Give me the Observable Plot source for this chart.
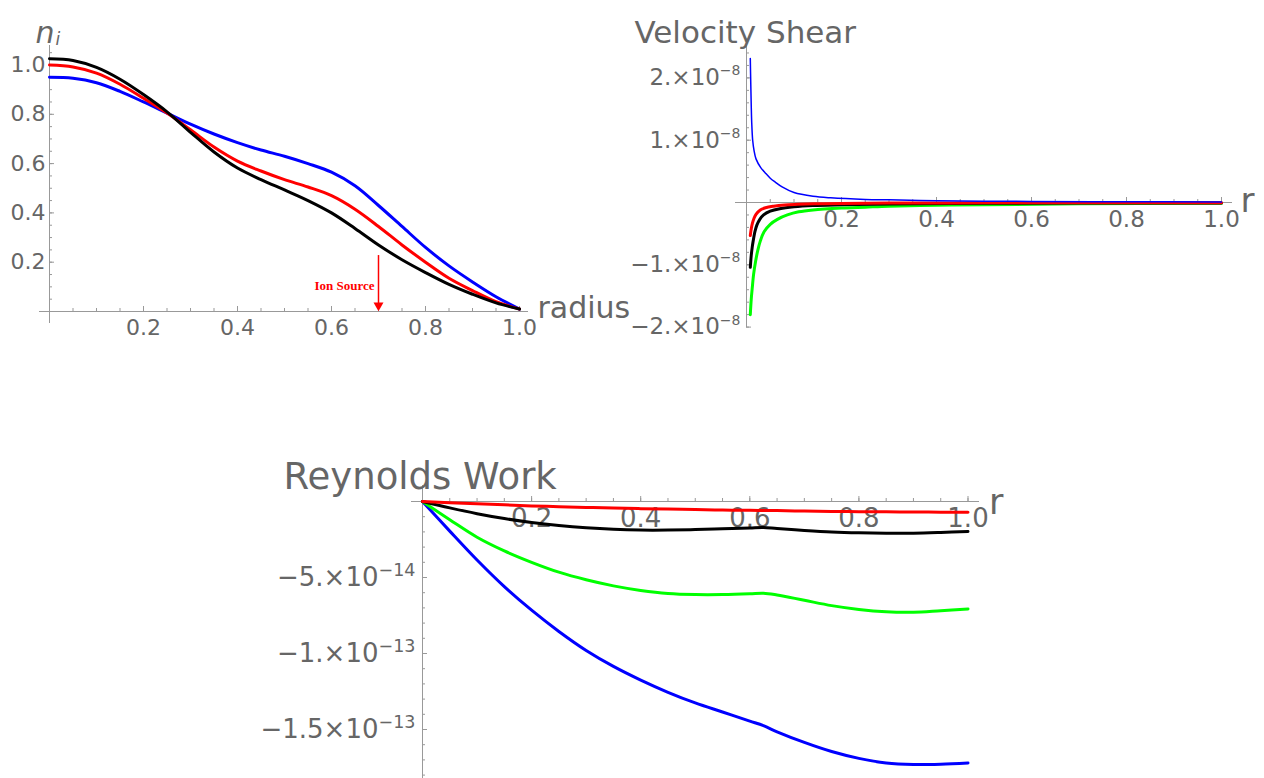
<!DOCTYPE html>
<html><head><meta charset="utf-8">
<script src="https://cdn.jsdelivr.net/npm/d3@7"></script>
<script src="https://cdn.jsdelivr.net/npm/@observablehq/plot@0.6"></script>
<style>
body{margin:0;background:#fff;}
#wrap{position:relative;width:1264px;height:778px;overflow:hidden;background:#fff;}
.panel{position:absolute;}
.panel svg{overflow:visible;background:transparent;}
</style>
</head><body><div id="wrap"></div>
<script>
// ---------- Panel A: ion density n_i vs radius ----------
const rA = [0,0.05,0.1,0.15,0.2,0.25,0.3,0.35,0.4,0.45,0.5,0.55,0.6,0.65,0.7,0.75,0.8,0.85,0.9,0.95,1.0];
const nBlack = [1.025,1.018,0.99,0.942,0.88,0.81,0.727,0.647,0.582,0.535,0.493,0.45,0.40,0.337,0.27,0.21,0.158,0.11,0.07,0.035,0.01];
const nRed   = [1.0,0.992,0.967,0.922,0.865,0.805,0.737,0.667,0.61,0.57,0.535,0.505,0.47,0.415,0.345,0.27,0.2,0.135,0.085,0.04,0.01];
const nBlue  = [0.95,0.946,0.928,0.893,0.85,0.805,0.76,0.72,0.685,0.655,0.63,0.6,0.565,0.51,0.43,0.345,0.26,0.185,0.12,0.06,0.01];
const ionSourceR = 0.7;
const ionSourceLabel = "Ion Source";
const ticksA = [0.2,0.4,0.6,0.8,1.0];
const tickLabelsA = ["0.2","0.4","0.6","0.8","1.0"];

// ---------- Panel B: velocity shear ----------
const rShearBlue = [0.008,0.009,0.010,0.011,0.013,0.016,0.02,0.03,0.04,0.05,0.06,0.075,0.1,0.14,0.177,0.25,0.3,0.4,0.5,0.6,0.8,1.0];
const shearBlue  = [2.31e-8,1.9e-8,1.55e-8,1.28e-8,1.0e-8,0.83e-8,0.7e-8,0.56e-8,0.47e-8,0.39e-8,0.33e-8,0.25e-8,0.16e-8,0.1e-8,0.075e-8,0.05e-8,0.043e-8,0.03e-8,0.022e-8,0.017e-8,0.012e-8,0.009e-8];
const rShearRed  = [0.008,0.01,0.0125,0.0155,0.02,0.029,0.04,0.057,0.08,0.107,0.15,0.2,0.3,0.5,0.7,1.0];
const shearRed   = [-0.53e-8,-0.42e-8,-0.33e-8,-0.26e-8,-0.19e-8,-0.12e-8,-0.085e-8,-0.06e-8,-0.04e-8,-0.03e-8,-0.02e-8,-0.015e-8,-0.01e-8,-0.006e-8,-0.004e-8,-0.003e-8];
const rShearBlack = [0.008,0.01,0.012,0.014,0.018,0.022,0.028,0.036,0.05,0.07,0.1,0.14,0.2,0.3,0.5,0.7,1.0];
const shearBlack  = [-1.04e-8,-0.85e-8,-0.72e-8,-0.62e-8,-0.46e-8,-0.36e-8,-0.27e-8,-0.2e-8,-0.14e-8,-0.1e-8,-0.07e-8,-0.05e-8,-0.038e-8,-0.025e-8,-0.014e-8,-0.01e-8,-0.007e-8];
const rShearGreen = [0.008,0.01,0.012,0.015,0.019,0.024,0.029,0.037,0.05,0.065,0.086,0.11,0.14,0.2,0.25,0.3,0.4,0.5,0.7,1.0];
const shearGreen  = [-1.8e-8,-1.55e-8,-1.38e-8,-1.15e-8,-0.95e-8,-0.76e-8,-0.62e-8,-0.47e-8,-0.35e-8,-0.27e-8,-0.2e-8,-0.15e-8,-0.12e-8,-0.09e-8,-0.075e-8,-0.06e-8,-0.045e-8,-0.035e-8,-0.022e-8,-0.014e-8];
const ticksBx = [0.2,0.4,0.6,0.8,1.0];
const tickLabelsBx = ["0.2","0.4","0.6","0.8","1.0"];
const ticksBy = [2e-8,1e-8,-1e-8,-2e-8];
const tickLabelsBy = ["2.×10","1.×10","−1.×10","−2.×10"];
const tickExpBy = ["−8","−8","−8","−8"];

// ---------- Panel C: Reynolds work ----------
const rC = [0,0.05,0.1,0.15,0.2,0.25,0.3,0.35,0.4,0.45,0.5,0.55,0.6,0.625,0.65,0.7,0.75,0.8,0.85,0.9,0.95,1.0];
const rwBlue  = [0,-1.95,-3.85,-5.6,-7.15,-8.55,-9.8,-10.85,-11.75,-12.55,-13.25,-13.85,-14.45,-14.75,-15.15,-15.85,-16.45,-16.9,-17.2,-17.3,-17.28,-17.2].map(v=>v*1e-14);
const rwGreen = [0,-1.2,-2.35,-3.25,-4.0,-4.65,-5.15,-5.55,-5.85,-6.05,-6.12,-6.12,-6.07,-6.03,-6.15,-6.5,-6.85,-7.1,-7.25,-7.28,-7.18,-7.07].map(v=>v*1e-14);
const rwBlack = [0,-0.42,-0.8,-1.12,-1.38,-1.58,-1.73,-1.83,-1.88,-1.88,-1.85,-1.8,-1.74,-1.71,-1.78,-1.9,-2.0,-2.06,-2.09,-2.09,-2.04,-1.97].map(v=>v*1e-14);
const rwRed   = [0,-0.08,-0.15,-0.22,-0.29,-0.34,-0.39,-0.43,-0.47,-0.5,-0.53,-0.56,-0.58,-0.59,-0.6,-0.63,-0.65,-0.67,-0.68,-0.69,-0.7,-0.7].map(v=>v*1e-14);
const ticksCx = [0.2,0.4,0.6,0.8,1.0];
const tickLabelsCx = ["0.2","0.4","0.6","0.8","1.0"];
const ticksCy = [-5e-14,-1e-13,-1.5e-13];
const tickLabelsCy = ["−5.×10","−1.×10","−1.5×10"];
const tickExpCy = ["−14","−13","−13"];

// ---------- helpers ----------
const AX = "#999", TX = "#666", FONT = "DejaVu Sans";
const pts = (xs, ys) => xs.map((x, i) => ({x, y: ys[i]}));
const ln = (xs, ys, color, w) => Plot.line(pts(xs, ys), {x: "x", y: "y", stroke: color, strokeWidth: w, curve: "catmull-rom"});

function axes(xMajor, xMinor, yMajor, yMinor) {
  return [
    Plot.ruleY([0], {y: d => d, stroke: AX, strokeWidth: 1}),
    Plot.ruleX([0], {x: d => d, stroke: AX, strokeWidth: 1}),
    Plot.ruleX(xMinor, {x: d => d, y1: () => 0, y2: () => 0, insetTop: -3, stroke: AX}),
    Plot.ruleX(xMajor, {x: d => d, y1: () => 0, y2: () => 0, insetTop: -5, stroke: AX}),
    Plot.ruleY(yMinor, {y: d => d, x1: () => 0, x2: () => 0, insetRight: -3, stroke: AX}),
    Plot.ruleY(yMajor, {y: d => d, x1: () => 0, x2: () => 0, insetRight: -5, stroke: AX})
  ];
}

function place(svg, left, top) {
  const d = document.createElement("div");
  d.className = "panel";
  d.style.left = left + "px";
  d.style.top = top + "px";
  d.appendChild(svg);
  document.getElementById("wrap").appendChild(d);
}
const xMinorTicks = d3.range(1, 21).map(k => k * 0.05);

// ---------- Panel A ----------
const plotA = Plot.plot({
  width: 640, height: 345,
  marginLeft: 39, marginRight: 112, marginTop: 45, marginBottom: 22,
  x: {domain: [-10/470, 1 + 9/470], axis: null},
  y: {domain: [-12/246.5, 266/246.5], axis: null},
  style: {fontFamily: FONT, background: "transparent", overflow: "visible"},
  marks: [
    ...axes(ticksA, xMinorTicks, ticksA, d3.range(1, 22).map(k => k * 0.05)),
    Plot.text(ticksA, {x: d => d, y: () => 0, text: (d, i) => tickLabelsA[i], dy: 16, fontSize: 22, fill: TX}),
    Plot.text(ticksA, {x: () => 0, y: d => d, text: (d, i) => tickLabelsA[i], dx: -4, textAnchor: "end", fontSize: 22, fill: TX}),
    Plot.text(["radius"], {x: () => 1, y: () => 0, text: d => d, dx: 18, dy: -3, textAnchor: "start", fontSize: 30, fill: TX}),
    Plot.text(["n"], {frameAnchor: "top-left", text: d => d, dx: -4, dy: -24, textAnchor: "start", fontSize: 30, fontStyle: "italic", fill: TX}),
    Plot.text(["i"], {frameAnchor: "top-left", text: d => d, dx: 16, dy: -13, textAnchor: "start", fontSize: 17, fontStyle: "italic", fill: TX}),
    ln(rA, nBlue, "#0000ff", 3),
    ln(rA, nRed, "#ff0000", 3),
    ln(rA, nBlack, "#000000", 3),
    Plot.ruleX([ionSourceR], {x: d => d, y1: () => 0.227, y2: () => 0.03, stroke: "#ff0000", strokeWidth: 1.5}),
    Plot.dot([ionSourceR], {x: d => d, y: () => 0, dy: -6, symbol: "triangle", rotate: 180, r: 3.7, fill: "#ff0000", stroke: "none"}),
    Plot.text([ionSourceLabel], {x: () => ionSourceR, y: () => 0.105, text: d => d, dx: -4, textAnchor: "end", fontFamily: "Liberation Serif", fontWeight: "bold", fontSize: 13, fill: "#ff0000"})
  ]
});
place(plotA, 0, 0);

// ---------- Panel B ----------
const plotB = Plot.plot({
  width: 644, height: 345,
  marginLeft: 115, marginRight: 32, marginTop: 45, marginBottom: 18,
  x: {domain: [-11/475, 486/475], axis: null},
  y: {domain: [-125/62.3 * 1e-8, 157/62.3 * 1e-8], axis: null},
  style: {fontFamily: FONT, background: "transparent", overflow: "visible"},
  marks: [
    ...axes(ticksBx, xMinorTicks, ticksBy, d3.range(-10, 13).map(k => k * 0.2e-8)),
    Plot.text(ticksBx, {x: d => d, y: () => 0, text: (d, i) => tickLabelsBx[i], dy: 17, fontSize: 23, fill: TX}),
    Plot.text(ticksBy, {x: () => 0, y: d => d, text: (d, i) => tickLabelsBy[i], dx: -26.6, textAnchor: "end", fontSize: 23, fill: TX}),
    Plot.text(ticksBy, {x: () => 0, y: d => d, text: (d, i) => tickExpBy[i], dx: -6, dy: -7, textAnchor: "end", fontSize: 14, fill: TX}),
    Plot.text(["r"], {x: () => 1, y: () => 0, text: d => d, dx: 19, dy: -1, textAnchor: "start", fontSize: 34, fill: TX}),
    Plot.text(["Velocity Shear"], {frameAnchor: "top-left", text: d => d, dx: -101, dy: -25, textAnchor: "start", fontSize: 31, fill: TX}),
    ln(rShearGreen, shearGreen, "#00ff00", 3),
    ln(rShearBlack, shearBlack, "#000000", 3),
    ln(rShearRed, shearRed, "#ff0000", 3),
    ln(rShearBlue, shearBlue, "#0000ff", 1.5)
  ]
});
place(plotB, 620, 0);

// ---------- Panel C ----------
const plotC = Plot.plot({
  width: 1264, height: 348,
  marginLeft: 411, marginRight: 285, marginTop: 55, marginBottom: 0,
  x: {domain: [-11/545.5, 557/545.5], axis: null},
  y: {domain: [-277/15.2 * 1e-14, 16/15.2 * 1e-14], axis: null},
  style: {fontFamily: FONT, background: "transparent", overflow: "visible"},
  marks: [
    ...axes(ticksCx, xMinorTicks, ticksCy, d3.range(-18, 1).map(k => k * 1e-14)),
    Plot.text(ticksCx, {x: d => d, y: () => 0, text: (d, i) => tickLabelsCx[i], dy: 17, fontSize: 26, fill: TX}),
    Plot.text(ticksCy, {x: () => 0, y: d => d, text: (d, i) => tickLabelsCy[i], dx: -44, textAnchor: "end", fontSize: 26, fill: TX}),
    Plot.text(ticksCy, {x: () => 0, y: d => d, text: (d, i) => tickExpCy[i], dx: -7, dy: -7, textAnchor: "end", fontSize: 17.5, fill: TX}),
    Plot.text(["r"], {x: () => 1, y: () => 0, text: d => d, dx: 21, dy: 1, textAnchor: "start", fontSize: 35, fill: TX}),
    Plot.text(["Reynolds Work"], {frameAnchor: "top-left", text: d => d, dx: -128, dy: -23, textAnchor: "start", fontSize: 37, fill: TX}),
    ln(rC, rwBlue, "#0000ff", 3),
    ln(rC, rwGreen, "#00ff00", 3),
    ln(rC, rwBlack, "#000000", 3),
    ln(rC, rwRed, "#ff0000", 3)
  ]
});
place(plotC, 0, 430);
</script>
</body></html>
